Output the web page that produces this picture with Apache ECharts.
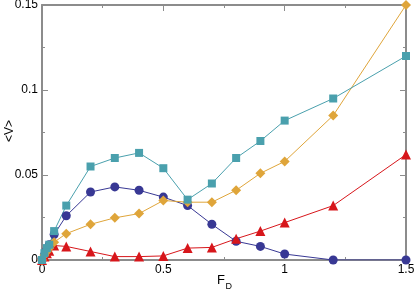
<!DOCTYPE html>
<html><head><meta charset="utf-8">
<script src="https://cdn.jsdelivr.net/npm/echarts@6/dist/echarts.min.js"></script>
<style>html,body{margin:0;padding:0;background:#fff}#c{width:415px;height:292px}</style>
</head><body><div id="c"></div>
<script>
const xs = [0, 0.01, 0.02, 0.03, 0.05, 0.1, 0.2, 0.3, 0.4, 0.5, 0.6, 0.7, 0.8, 0.9, 1.0, 1.2, 1.5];
const teal = [0, 0.004, 0.007, 0.009, 0.017, 0.032, 0.055, 0.060, 0.063, 0.054, 0.0355, 0.045, 0.060, 0.070, 0.082, 0.095, 0.120];
const blue = [0, 0.003, 0.006, 0.009, 0.015, 0.026, 0.040, 0.043, 0.041, 0.037, 0.032, 0.021, 0.011, 0.008, 0.0035, 0, 0];
const orange = [0, 0.003, 0.005, 0.007, 0.0105, 0.0155, 0.021, 0.0248, 0.0273, 0.035, 0.034, 0.034, 0.041, 0.051, 0.058, 0.085, 0.150];
const red = [0, 0.002, 0.004, 0.0055, 0.0085, 0.008, 0.005, 0.002, 0.002, 0.0024, 0.007, 0.0074, 0.0125, 0.017, 0.022, 0.032, 0.062];
const xTicks = [0, 0.5, 1, 1.5];
const yTicks = [0, 0.05, 0.1, 0.15];
const xTitle = 'F';
const xTitleSub = 'D';
const yTitle = '<V>';

const pairs = v => xs.map((x, i) => [x, v[i]]);
const grey = '#8c8c8c';
const font = 'Liberation Sans, Arial, sans-serif';
function axisBase(show) {
  return {
    axisLine: {show: true, onZero: false, lineStyle: {color: grey, width: 2}},
    axisTick: {show: true, inside: true, length: 6, lineStyle: {color: grey, width: 1}},
    minorTick: {show: true, splitNumber: 2, length: 3, lineStyle: {color: grey, width: 1}},
    splitLine: {show: false},
    axisLabel: {show: show, color: '#000', fontSize: 12, fontFamily: font, margin: 4}
  };
}
const chart = echarts.init(document.getElementById('c'));
function ser(name, v, color, symbol, size) {
  return {name, type: 'line', data: pairs(v), symbol, symbolSize: size,
    lineStyle: {color, width: 1}, itemStyle: {color}, showSymbol: true, animation: false};
}
chart.setOption({
  animation: false,
  grid: {left: 42, right: 9, top: 5, bottom: 32, containLabel: false, outerBoundsMode: 'none'},
  xAxis: [
    Object.assign(axisBase(true), {type: 'value', min: xTicks[0], max: xTicks[xTicks.length-1], interval: 0.5, position: 'bottom'}),
    Object.assign(axisBase(false), {type: 'value', min: 0, max: 1.5, interval: 0.5, position: 'top'})
  ],
  yAxis: [
    Object.assign(axisBase(true), {type: 'value', min: yTicks[0], max: yTicks[yTicks.length-1], interval: 0.05, position: 'left'}),
    Object.assign(axisBase(false), {type: 'value', min: 0, max: 0.15, interval: 0.05, position: 'right'})
  ],
  graphic: [
    {type: 'text', x: 217, y: 274, style: {text: xTitle, fontSize: 13, fontFamily: font, fill: '#000'}},
    {type: 'text', x: 225.5, y: 282, style: {text: xTitleSub, fontSize: 9, fontFamily: font, fill: '#000'}},
    {type: 'text', x: 10, y: 131, rotation: Math.PI / 2,
      style: {text: yTitle, fontSize: 12, fontFamily: font, fill: '#000', align: 'center', verticalAlign: 'middle'}}
  ],
  series: [
    ser('blue', blue, '#383894', 'circle', 9),
    ser('red', red, '#d7161b', 'triangle', 10),
    ser('orange', orange, '#dfa53a', 'diamond', 10),
    ser('teal', teal, '#4aa0ad', 'rect', 8)
  ]
});
</script></body></html>
